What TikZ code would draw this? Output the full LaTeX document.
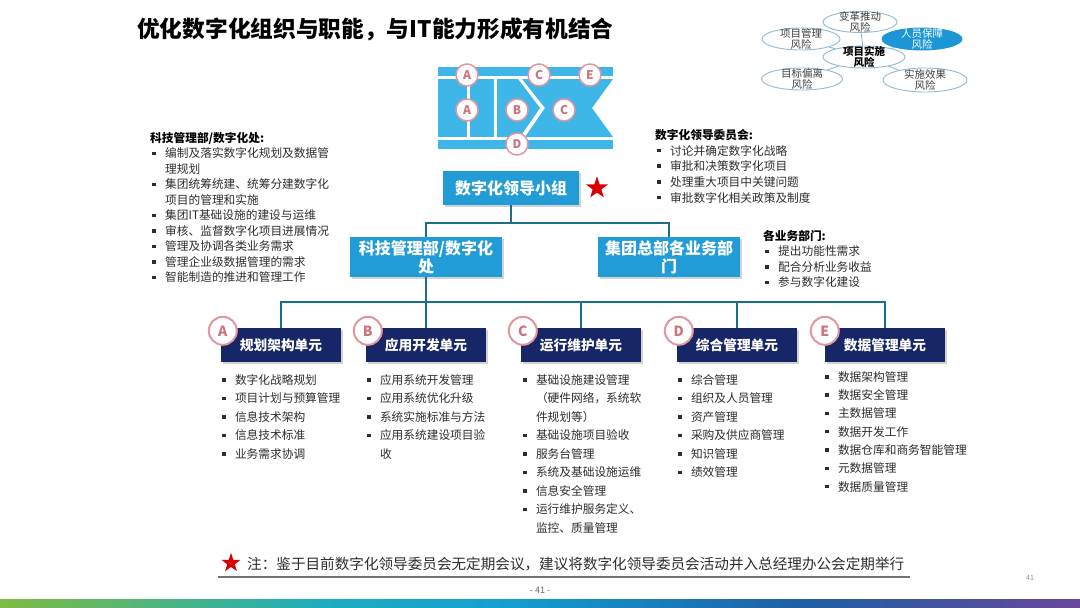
\documentclass[tikz,border=0pt]{standalone}
\usepackage{fontspec}
\setmainfont{Noto Sans CJK SC}
\usetikzlibrary{positioning,shapes.geometric,shadows}

\definecolor{boxblue}{RGB}{33,156,214}
\definecolor{flagblue}{RGB}{62,182,232}
\definecolor{unitnavy}{RGB}{22,38,102}
\definecolor{linkteal}{RGB}{28,110,140}
\definecolor{badgepink}{RGB}{228,150,160}
\definecolor{badgetext}{RGB}{205,115,125}
\definecolor{riskline}{RGB}{150,185,210}
\definecolor{riskfill}{RGB}{28,150,212}
\definecolor{bodygray}{RGB}{45,45,45}
\definecolor{barA}{RGB}{125,188,66}
\definecolor{barB}{RGB}{30,172,190}
\definecolor{barC}{RGB}{20,160,210}
\definecolor{barD}{RGB}{30,95,165}
\definecolor{barE}{RGB}{105,70,155}
\pgfdeclarehorizontalshading{barshade}{100bp}{color(0bp)=(barA); color(25bp)=(barA); color(40bp)=(barB); color(48bp)=(barC); color(62bp)=(barD); color(75bp)=(barE); color(100bp)=(barE)}

\newcommand{\itm}{\hspace*{2pt}\makebox[13pt][l]{\rule[2.7pt]{3.5pt}{3.5pt}}}
\newcommand{\cnt}{\hspace*{15pt}}

\begin{document}
\begin{tikzpicture}[
    x=1pt,y=-1pt,
    font=\fontsize{11.7}{18.5}\selectfont,
    heading/.style={anchor=west,inner sep=0pt,font=\fontsize{22.7}{26}\selectfont\bfseries},
    risk/.style={ellipse,draw=riskline,fill=white,line width=0.9pt,inner sep=0pt},
    risktext/.style={align=center,text=black!75,font=\fontsize{10.5}{11}\selectfont,inner sep=0pt},
    flag/.style={fill=flagblue,draw=none},
    letterdot/.style={circle,draw=badgepink,fill=white,line width=1.5pt,minimum size=#1,inner sep=0pt,text=badgetext},
    org/.style={fill=boxblue,text=white,font=\fontsize{16}{18}\selectfont\bfseries,align=center,inner sep=2pt,drop shadow={shadow xshift=2pt,shadow yshift=-2pt,opacity=0.35}},
    unitbox/.style={fill=unitnavy,text=white,font=\fontsize{13.7}{16}\selectfont\bfseries,minimum width=120pt,minimum height=34pt,inner sep=0pt,drop shadow={shadow xshift=2pt,shadow yshift=-2pt,opacity=0.35}},
    duty/.style={anchor=north west,align=left,inner sep=0pt,text=bodygray},
    link/.style={draw=linkteal,line width=2.5pt},
    redstar/.style={star,star points=5,star point ratio=2.5,fill=red!85!black,draw=none,minimum size=#1,inner sep=0pt}
  ]
    \fill[white] (0,0) rectangle (1080,608);
    \useasboundingbox (0,0) rectangle (1080,608);

    \node[heading] (title) at (137,29) {优化数字化组织与职能，与IT能力形成有机结合};

    % risk ellipses
    \node[risk,minimum width=74pt,minimum height=21pt] (ebd) at (860,22) {};
    \node[risk,minimum width=78pt,minimum height=22pt] (egl) at (801,39) {};
    \node[risk,minimum width=81pt,minimum height=22pt] (emb) at (802,79) {};
    \node[risk,minimum width=84pt,minimum height=24pt] (exg) at (925,80) {};
    \node[risk,minimum width=82pt,minimum height=22pt] (ess) at (864,57) {};
    \node[risk,fill=riskfill,draw=riskfill,minimum width=80pt,minimum height=22pt] (ery) at (922,39) {};
    \foreach \e in {ebd,egl,emb,exg,ery}
      \draw[riskline,line width=0.9pt] (ess) -- (\e);
    \node[risktext] at (ebd) {变革推动\\风险};
    \node[risktext] at (egl) {项目管理\\风险};
    \node[risktext] at (emb) {目标偏离\\风险};
    \node[risktext] at (exg) {实施效果\\风险};
    \node[risktext,text=black,font=\fontsize{10.5}{11}\selectfont\bfseries] at (ess) {项目实施\\风险};
    \node[risktext,text=white] at (ery) {人员保障\\风险};

    % flag graphic
    \fill[flag] (438,67) rectangle (613,76);
    \fill[flag] (438,140) rectangle (613,149);
    \fill[flag] (438,79) rectangle (466.5,137);
    \fill[flag] (469.5,79) rectangle (494,137);
    \fill[flag] (497,79) -- (518,79) -- (540,108) -- (520,137) -- (497,137) -- cycle;
    \fill[flag] (522,79) -- (613,79) -- (592,108) -- (613,137) -- (525,137) -- (545,108) -- cycle;
    \node[letterdot=22pt,font=\fontsize{12}{12}\selectfont\bfseries] (fa1) at (467,75) {A};
    \node[letterdot=22pt,font=\fontsize{12}{12}\selectfont\bfseries] (fc1) at (539,75) {C};
    \node[letterdot=22pt,font=\fontsize{12}{12}\selectfont\bfseries] (fe1) at (590,75) {E};
    \node[letterdot=22pt,font=\fontsize{12}{12}\selectfont\bfseries] (fa2) at (467,110) {A};
    \node[letterdot=22pt,font=\fontsize{12}{12}\selectfont\bfseries] (fb2) at (517,110) {B};
    \node[letterdot=22pt,font=\fontsize{12}{12}\selectfont\bfseries] (fc2) at (564,110) {C};
    \node[letterdot=22pt,font=\fontsize{12}{12}\selectfont\bfseries] (fd3) at (517,144) {D};

    % duty texts
    \node[duty,font=\fontsize{11.7}{15.5}\selectfont] (kjduty) at (150,132) {
      \textcolor{black}{\bfseries 科技管理部/数字化处:}\\
      \itm 编制及落实数字化规划及数据管\\
      \cnt 理规划\\
      \itm 集团统筹统建、统筹分建数字化\\
      \cnt 项目的管理和实施\\
      \itm 集团IT基础设施的建设与运维\\
      \itm 审核、监督数字化项目进展情况\\
      \itm 管理及协调各类业务需求\\
      \itm 管理企业级数据管理的需求\\
      \itm 智能制造的推进和管理工作};
    \node[duty,font=\fontsize{11.7}{15.7}\selectfont] (wyhduty) at (655,129) {
      \textcolor{black}{\bfseries 数字化领导委员会:}\\
      \itm 讨论并确定数字化战略\\
      \itm 审批和决策数字化项目\\
      \itm 处理重大项目中关键问题\\
      \itm 审批数字化相关政策及制度};
    \node[duty,font=\fontsize{11.7}{15.5}\selectfont] (ywduty) at (763,230) {
      \textcolor{black}{\bfseries 各业务部门:}\\
      \itm 提出功能性需求\\
      \itm 配合分析业务收益\\
      \itm 参与数字化建设};

    % org boxes
    \node[org,minimum width=136pt,minimum height=34pt] (lead) at (511,188) {数字化领导小组};
    \node[redstar=23pt] (leadstar) at (597,188) {};
    \node[org,minimum width=152pt,minimum height=40pt] (kj) at (426,257) {科技管理部/数字化\\处};
    \node[org,minimum width=142pt,minimum height=40pt] (jt) at (669,257) {集团总部各业务部\\门};

    \node[unitbox] (ua) at (281,345) {规划架构单元};
    \node[unitbox] (ub) at (426,345) {应用开发单元};
    \node[unitbox] (uc) at (581,345) {运行维护单元};
    \node[unitbox] (ud) at (737,345) {综合管理单元};
    \node[unitbox] (ue) at (885,345) {数据管理单元};

    \coordinate (bus1) at (511,223);
    \coordinate (bus2) at (426,302);
    \draw[link] (lead.south) -- (bus1);
    \draw[link] (kj.north) |- (bus1) -| (jt.north);
    \draw[link] (kj.south) -- (ub.north);
    \draw[link] (ua.north) |- (bus2) -| (ue.north);
    \draw[link] (uc.north) -- (uc.north |- bus2);
    \draw[link] (ud.north) -- (ud.north |- bus2);

    \node[letterdot=28pt,line width=2pt,font=\fontsize{14}{14}\selectfont\bfseries] (ba) at ([xshift=2pt,yshift=-3pt]ua.north west) {A};
    \node[letterdot=28pt,line width=2pt,font=\fontsize{14}{14}\selectfont\bfseries] (bb) at ([xshift=2pt,yshift=-3pt]ub.north west) {B};
    \node[letterdot=28pt,line width=2pt,font=\fontsize{14}{14}\selectfont\bfseries] (bc) at ([xshift=2pt,yshift=-3pt]uc.north west) {C};
    \node[letterdot=28pt,line width=2pt,font=\fontsize{14}{14}\selectfont\bfseries] (bd) at ([xshift=2pt,yshift=-3pt]ud.north west) {D};
    \node[letterdot=28pt,line width=2pt,font=\fontsize{14}{14}\selectfont\bfseries] (be) at ([xshift=0pt,yshift=-3pt]ue.north west) {E};

    % unit duties
    \node[duty] (uaduty) at ([xshift=-1pt,yshift=-12pt]ua.south west) {
      \itm 数字化战略规划\\
      \itm 项目计划与预算管理\\
      \itm 信息技术架构\\
      \itm 信息技术标准\\
      \itm 业务需求协调};
    \node[duty] (ubduty) at ([xshift=-1pt,yshift=-12pt]ub.south west) {
      \itm 应用系统开发管理\\
      \itm 应用系统优化升级\\
      \itm 系统实施标准与方法\\
      \itm 应用系统建设项目验\\
      \cnt 收};
    \node[duty] (ucduty) at ([xshift=0pt,yshift=-12pt]uc.south west) {
      \itm 基础设施建设管理\\
      \cnt （硬件网络，系统软\\
      \cnt 件规划等）\\
      \itm 基础设施项目验收\\
      \itm 服务台管理\\
      \itm 系统及基础设施运维\\
      \itm 信息安全管理\\
      \itm 运行维护服务定义、\\
      \cnt 监控、质量管理};
    \node[duty] (udduty) at ([xshift=-1pt,yshift=-12pt]ud.south west) {
      \itm 综合管理\\
      \itm 组织及人员管理\\
      \itm 资产管理\\
      \itm 采购及供应商管理\\
      \itm 知识管理\\
      \itm 绩效管理};
    \node[duty,font=\fontsize{11.7}{18.3}\selectfont] (ueduty) at ([xshift=-2pt,yshift=-9pt]ue.south west) {
      \itm 数据架构管理\\
      \itm 数据安全管理\\
      \itm 主数据管理\\
      \itm 数据开发工作\\
      \itm 数据仓库和商务智能管理\\
      \itm 元数据管理\\
      \itm 数据质量管理};

    % note
    \node[redstar=20pt] (notestar) at (231,563) {};
    \node[anchor=west,inner sep=0pt,text=bodygray,font=\fontsize{14.6}{16}\selectfont] (note) at (247,564) {注：鉴于目前数字化领导委员会无定期会议，建议将数字化领导委员会活动并入总经理办公会定期举行};
    \coordinate (ruleL) at (218,577);
    \coordinate (ruleR) at (910,577);
    \draw[black!55,line width=2pt] (ruleL) -- (ruleR);
    \node[text=black!60,font=\fontsize{9}{9}\selectfont] (pgno) at (540,590) {- 41 -};
    \node[text=black!45,font=\fontsize{7}{7}\selectfont] (pgcorner) at (1030,578) {41};

    \shade[shading=barshade] (0,599) rectangle (1080,608);
  \end{tikzpicture}
\end{document}
